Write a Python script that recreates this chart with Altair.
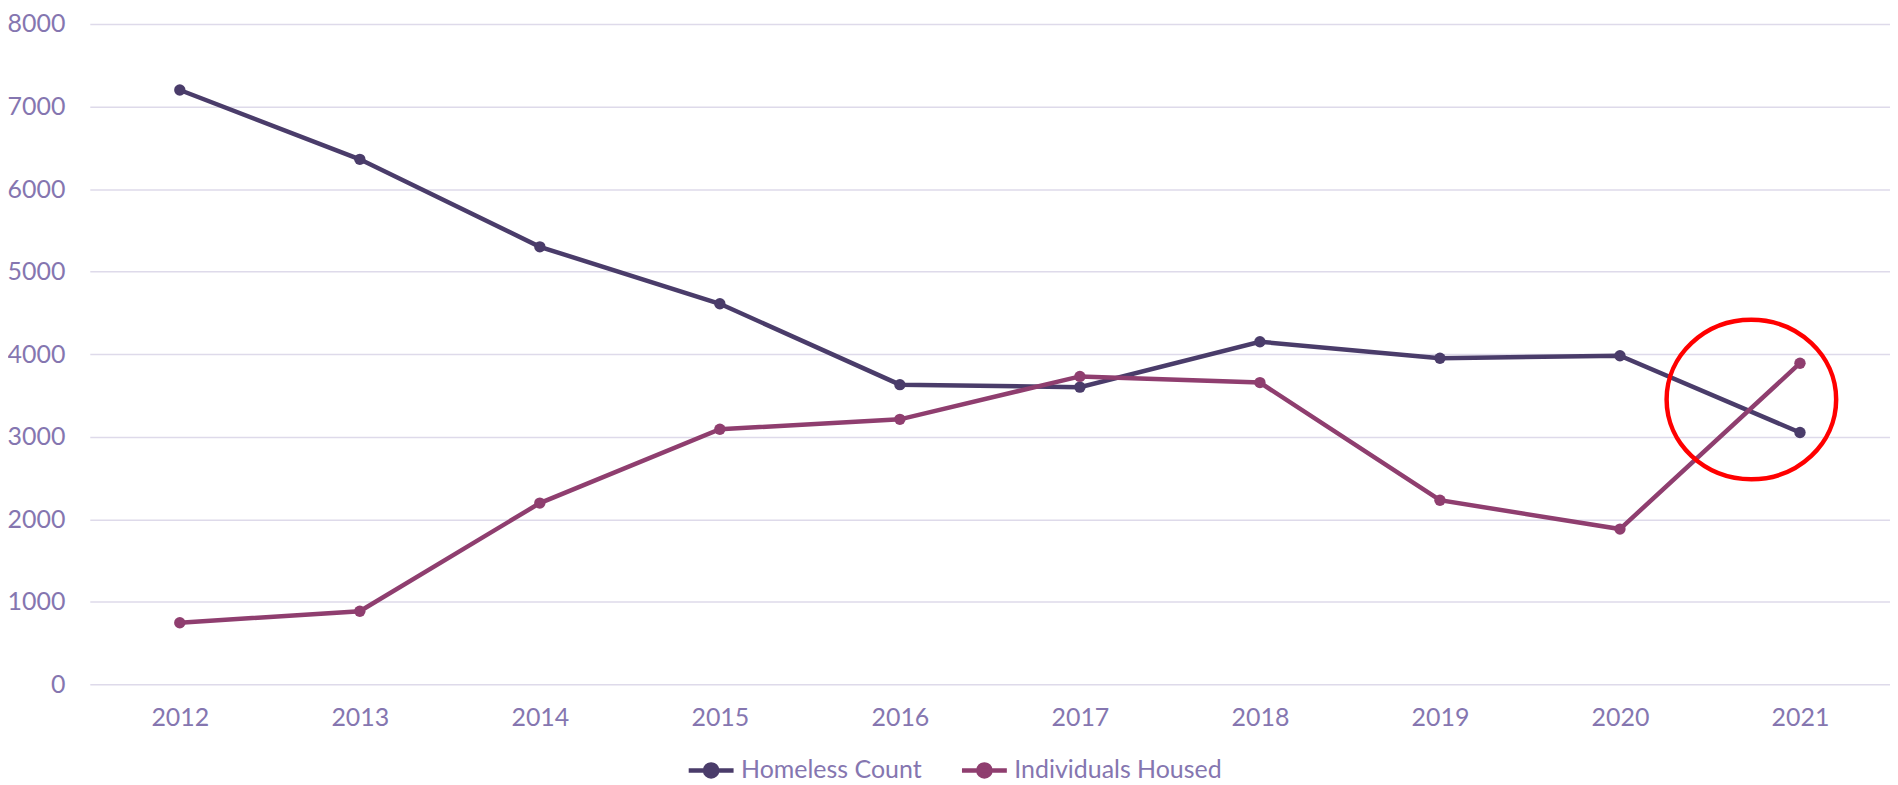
import altair as alt
import pandas as pd

# ---- data ----
years = [2012, 2013, 2014, 2015, 2016, 2017, 2018, 2019, 2020, 2021]
homeless_count = [7200, 6360, 5300, 4610, 3630, 3600, 4150, 3950, 3980, 3050]
individuals_housed = [745, 885, 2195, 3090, 3210, 3730, 3655, 2230, 1880, 3890]
series_names = ["Homeless Count", "Individuals Housed"]
series_colors = ["#4a3c6a", "#8f3e6f"]
y_ticks = [0, 1000, 2000, 3000, 4000, 5000, 6000, 7000, 8000]

# highlight ring (annotation) position in data units
highlight_year = [2020.73]
highlight_value = [3450]

rows = []
for name, vals in zip(series_names, [homeless_count, individuals_housed]):
    for yr, v in zip(years, vals):
        rows.append({"Year": yr, "Value": v, "Series": name})
df = pd.DataFrame(rows)
ring_df = pd.DataFrame({"Year": highlight_year, "Value": highlight_value})

label_color = "#8576b0"
grid_color = "#dedaea"

x_enc = alt.X(
    "Year:Q",
    scale=alt.Scale(domain=[2011.5, 2021.5], nice=False, zero=False),
    axis=alt.Axis(values=years, format="d", title=None, grid=False,
                  domain=False, ticks=False, labelPadding=21),
)
y_enc = alt.Y(
    "Value:Q",
    scale=alt.Scale(domain=[0, 8000], nice=False),
    axis=alt.Axis(values=y_ticks, format="d", title=None, domain=False,
                  ticks=False, labelPadding=25, gridColor=grid_color,
                  gridWidth=1.5),
)

legend_symbol = ("M-1,0L1,0M-0.27,0A0.27,0.27 0 1,0 0.27,0"
                 "A0.27,0.27 0 1,0 -0.27,0Z")
color_enc = alt.Color(
    "Series:N",
    scale=alt.Scale(domain=series_names, range=series_colors),
    legend=alt.Legend(
        title=None, orient="none", legendX=598, legendY=723,
        direction="horizontal", symbolType=legend_symbol, symbolSize=2025,
        symbolStrokeWidth=4.5, labelOffset=5, columnPadding=30,
        labelFontSize=25, labelFont="Lato", labelColor=label_color,
        labelLimit=400,
    ),
)

lines = alt.Chart(df).mark_line(strokeWidth=4.5).encode(
    x=x_enc, y=y_enc, color=color_enc
)
points = alt.Chart(df).mark_point(filled=True, size=130, opacity=1).encode(
    x=x_enc, y=y_enc, color=color_enc
)

ellipse = "M-1,0A1,0.94 0 1,0 1,0A1,0.94 0 1,0 -1,0Z"
ring = alt.Chart(ring_df).mark_point(
    shape=ellipse, size=28900, filled=False, stroke="#ff0000",
    strokeWidth=4.5, opacity=1
).encode(x=alt.X("Year:Q"), y=alt.Y("Value:Q"))

chart = (
    alt.layer(lines, points, ring)
    .properties(
        width=1805, height=662,
        padding={"left": 82, "top": 15, "right": 0, "bottom": 105},
        autosize=alt.AutoSizeParams(type="none"),
    )
    .configure_view(stroke=None)
    .configure_axis(labelFont="Lato", labelFontSize=25, labelColor=label_color)
)

chart.save("out.html", embed_options={"renderer": "svg", "actions": False})
